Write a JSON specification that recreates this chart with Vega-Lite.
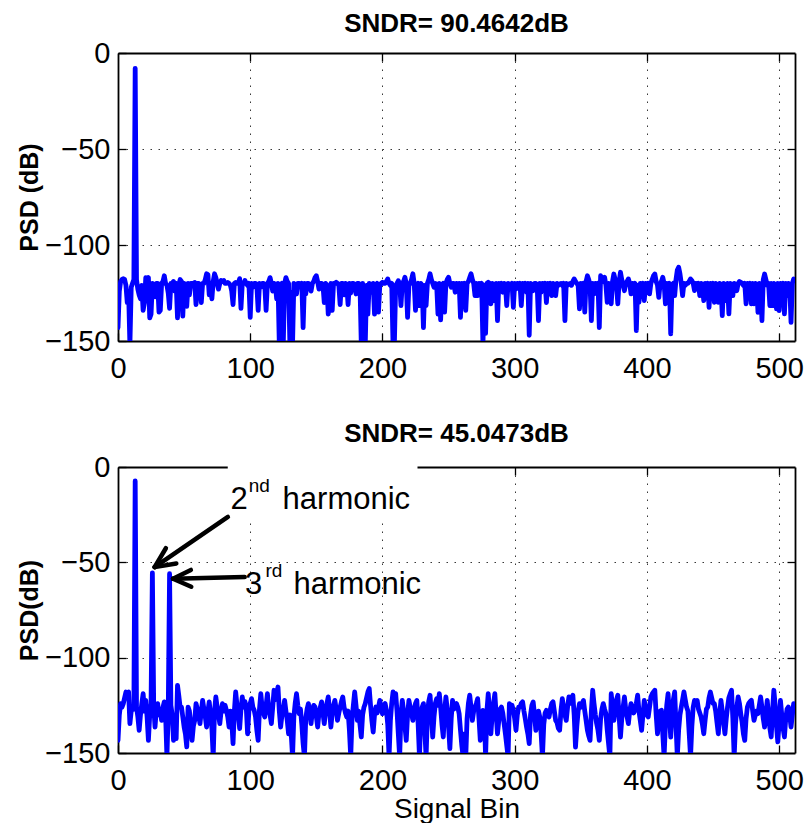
{
  "$schema": "https://vega.github.io/schema/vega-lite/v6.json",
  "background": "white",
  "padding": {"left": 17, "top": 11, "right": 5, "bottom": 0},
  "config": {
    "font": "Liberation Sans",
    "view": {"stroke": null},
    "concat": {"spacing": 38},
    "axis": {
      "domainColor": "black",
      "domainWidth": 1.8,
      "tickColor": "black",
      "tickWidth": 1.3,
      "tickSize": -8,
      "gridColor": "#222",
      "gridWidth": 1,
      "gridDash": [1.5, 6.5],
      "gridOpacity": 0.9,
      "labelFont": "Liberation Sans",
      "labelFontSize": 29,
      "labelColor": "black",
      "labelFlush": false,
      "labelOverlap": false,
      "titleFont": "Liberation Sans",
      "titleColor": "black"
    }
  },
  "data": {
    "values": [
      {"x":0,"a":-143,"b":-143.4},{"x":1,"a":-124,"b":-130},{"x":2,"a":-119,"b":-124.1},{"x":3,"a":-118,"b":-126},{"x":4,"a":-117.5,"b":-124.1},
      {"x":5,"a":-118,"b":-121},{"x":6,"a":-121,"b":-118},{"x":7,"a":-130,"b":-118.5},{"x":8,"a":-124,"b":-118},{"x":9,"a":-152,"b":-134.6},
      {"x":10,"a":-122,"b":-128},{"x":11,"a":-120,"b":-125.9},{"x":12,"a":-118,"b":-127},{"x":13,"a":-8,"b":-7.3},{"x":14,"a":-118,"b":-126},
      {"x":15,"a":-123,"b":-131},{"x":16,"a":-126,"b":-138.1},{"x":17,"a":-128,"b":-130},{"x":18,"a":-121,"b":-124},{"x":19,"a":-134,"b":-118.9},
      {"x":20,"a":-130,"b":-128},{"x":21,"a":-117,"b":-122.4},{"x":22,"a":-118,"b":-131},{"x":23,"a":-117,"b":-143.4},{"x":24,"a":-138,"b":-130},
      {"x":25,"a":-136,"b":-124},{"x":26,"a":-120,"b":-55.5},{"x":27,"a":-121,"b":-125},{"x":28,"a":-127,"b":-136.4},{"x":29,"a":-120,"b":-127},
      {"x":30,"a":-120,"b":-124.1},{"x":31,"a":-135,"b":-130},{"x":32,"a":-134,"b":-128},{"x":33,"a":-120,"b":-132.9},{"x":34,"a":-119,"b":-126},
      {"x":35,"a":-116,"b":-123.2},{"x":36,"a":-120,"b":-130},{"x":37,"a":-121,"b":-152},{"x":38,"a":-125,"b":-128},{"x":39,"a":-133,"b":-56},
      {"x":40,"a":-120,"b":-125},{"x":41,"a":-120,"b":-130},{"x":42,"a":-119,"b":-143.4},{"x":43,"a":-124,"b":-132},{"x":44,"a":-120,"b":-142.5},
      {"x":45,"a":-138,"b":-114.5},{"x":46,"a":-121,"b":-120},{"x":47,"a":-118,"b":-126},{"x":48,"a":-119,"b":-125.9},{"x":49,"a":-137,"b":-131},
      {"x":50,"a":-120,"b":-136.4},{"x":51,"a":-121,"b":-140},{"x":52,"a":-132,"b":-146.8},{"x":53,"a":-120,"b":-125.9},{"x":54,"a":-126,"b":-128},
      {"x":55,"a":-120,"b":-135},{"x":56,"a":-120,"b":-143.4},{"x":57,"a":-120,"b":-136},{"x":58,"a":-119.5,"b":-132.9},{"x":59,"a":-131,"b":-124.1},
      {"x":60,"a":-120,"b":-127},{"x":61,"a":-120,"b":-130},{"x":62,"a":-121,"b":-134.6},{"x":63,"a":-130,"b":-128},{"x":64,"a":-120,"b":-122.4},
      {"x":65,"a":-120,"b":-127},{"x":66,"a":-118,"b":-131},{"x":67,"a":-115,"b":-136.4},{"x":68,"a":-115.5,"b":-128},{"x":69,"a":-126,"b":-123.2},
      {"x":70,"a":-120,"b":-130},{"x":71,"a":-128,"b":-137},{"x":72,"a":-119,"b":-152},{"x":73,"a":-115,"b":-128},{"x":74,"a":-117,"b":-120.6},
      {"x":75,"a":-120,"b":-126},{"x":76,"a":-123,"b":-130},{"x":77,"a":-120,"b":-134.6},{"x":78,"a":-118.5,"b":-128},{"x":79,"a":-119,"b":-124.1},
      {"x":80,"a":-118.5,"b":-128},{"x":81,"a":-120,"b":-125},{"x":82,"a":-120,"b":-127.6},{"x":83,"a":-119.5,"b":-131},{"x":84,"a":-120,"b":-136.4},
      {"x":85,"a":-121,"b":-128},{"x":86,"a":-124,"b":-133},{"x":87,"a":-131,"b":-145.1},{"x":88,"a":-120,"b":-128},{"x":89,"a":-119.5,"b":-118},
      {"x":90,"a":-120,"b":-125},{"x":91,"a":-120,"b":-130},{"x":92,"a":-117.5,"b":-137.2},{"x":93,"a":-133,"b":-127},{"x":94,"a":-120,"b":-120.6},
      {"x":95,"a":-120,"b":-126},{"x":96,"a":-118.5,"b":-123},{"x":97,"a":-120,"b":-125.9},{"x":98,"a":-121,"b":-139.9},{"x":99,"a":-120,"b":-128},
      {"x":100,"a":-137.7,"b":-124},{"x":101,"a":-120,"b":-121.5},{"x":102,"a":-122,"b":-126},{"x":103,"a":-120,"b":-127.6},{"x":104,"a":-120,"b":-131},
      {"x":105,"a":-121,"b":-138},{"x":106,"a":-134,"b":-143.4},{"x":107,"a":-120,"b":-127},{"x":108,"a":-122,"b":-118.9},{"x":109,"a":-120,"b":-126},
      {"x":110,"a":-120,"b":-129},{"x":111,"a":-121,"b":-131.1},{"x":112,"a":-134,"b":-125},{"x":113,"a":-120,"b":-118.9},{"x":114,"a":-119,"b":-127},
      {"x":115,"a":-117,"b":-130},{"x":116,"a":-120,"b":-134.6},{"x":117,"a":-124,"b":-126},{"x":118,"a":-120,"b":-117.1},{"x":119,"a":-121,"b":-122},
      {"x":120,"a":-128,"b":-119},{"x":121,"a":-120,"b":-115.4},{"x":122,"a":-152,"b":-128},{"x":123,"a":-121,"b":-136.4},{"x":124,"a":-120,"b":-130},
      {"x":125,"a":-152,"b":-127},{"x":126,"a":-120,"b":-122.4},{"x":127,"a":-117,"b":-128},{"x":128,"a":-119,"b":-133},{"x":129,"a":-120,"b":-139.9},
      {"x":130,"a":-152,"b":-130},{"x":131,"a":-125,"b":-140},{"x":132,"a":-152,"b":-152},{"x":133,"a":-120,"b":-131},{"x":134,"a":-121,"b":-124},
      {"x":135,"a":-125.5,"b":-118.9},{"x":136,"a":-120,"b":-125},{"x":137,"a":-120,"b":-129.4},{"x":138,"a":-121,"b":-127},{"x":139,"a":-120,"b":-135},
      {"x":140,"a":-143,"b":-145},{"x":141,"a":-120,"b":-152},{"x":142,"a":-125.5,"b":-132},{"x":143,"a":-120,"b":-127},{"x":144,"a":-120,"b":-124.1},
      {"x":145,"a":-121,"b":-129},{"x":146,"a":-124,"b":-134.6},{"x":147,"a":-120,"b":-128},{"x":148,"a":-119,"b":-125},{"x":149,"a":-117,"b":-125.9},
      {"x":150,"a":-116,"b":-131},{"x":151,"a":-119,"b":-136.4},{"x":152,"a":-123,"b":-129},{"x":153,"a":-120,"b":-126},{"x":154,"a":-120,"b":-123.2},
      {"x":155,"a":-121,"b":-129},{"x":156,"a":-130,"b":-134.6},{"x":157,"a":-120,"b":-128},{"x":158,"a":-121,"b":-124},{"x":159,"a":-136,"b":-120.6},
      {"x":160,"a":-128,"b":-128},{"x":161,"a":-120,"b":-136.4},{"x":162,"a":-134,"b":-129},{"x":163,"a":-120,"b":-125},{"x":164,"a":-120,"b":-122.4},
      {"x":165,"a":-119.4,"b":-127},{"x":166,"a":-120,"b":-132.9},{"x":167,"a":-121,"b":-129},{"x":168,"a":-131,"b":-126},{"x":169,"a":-120,"b":-123},
      {"x":170,"a":-120,"b":-120.6},{"x":171,"a":-126,"b":-126},{"x":172,"a":-120,"b":-129},{"x":173,"a":-121,"b":-131.1},{"x":174,"a":-131,"b":-128},
      {"x":175,"a":-120,"b":-138},{"x":176,"a":-125,"b":-152},{"x":177,"a":-120,"b":-132},{"x":178,"a":-120,"b":-125},{"x":179,"a":-121,"b":-118},
      {"x":180,"a":-125.5,"b":-125},{"x":181,"a":-120,"b":-132.9},{"x":182,"a":-120,"b":-128},{"x":183,"a":-121,"b":-135},{"x":184,"a":-152,"b":-141.6},
      {"x":185,"a":-120,"b":-130},{"x":186,"a":-141,"b":-126},{"x":187,"a":-152,"b":-124.1},{"x":188,"a":-121,"b":-121},{"x":189,"a":-136,"b":-118},
      {"x":190,"a":-120,"b":-116.2},{"x":191,"a":-121,"b":-125},{"x":192,"a":-124.6,"b":-133},{"x":193,"a":-120,"b":-139},{"x":194,"a":-136,"b":-130},
      {"x":195,"a":-121,"b":-125.9},{"x":196,"a":-120,"b":-129},{"x":197,"a":-135,"b":-126},{"x":198,"a":-121,"b":-122.4},{"x":199,"a":-120,"b":-126},
      {"x":200,"a":-119.4,"b":-129.4},{"x":201,"a":-120,"b":-126},{"x":202,"a":-120,"b":-124},{"x":203,"a":-119,"b":-127.6},{"x":204,"a":-117.7,"b":-135},
      {"x":205,"a":-120,"b":-152},{"x":206,"a":-121,"b":-133},{"x":207,"a":-120,"b":-124},{"x":208,"a":-152,"b":-118},{"x":209,"a":-152,"b":-122},
      {"x":210,"a":-121,"b":-118.9},{"x":211,"a":-120,"b":-128},{"x":212,"a":-118.6,"b":-140},{"x":213,"a":-120,"b":-152},{"x":214,"a":-131.6,"b":-130},
      {"x":215,"a":-120,"b":-122.4},{"x":216,"a":-119,"b":-128},{"x":217,"a":-116.8,"b":-136},{"x":218,"a":-120,"b":-143.4},{"x":219,"a":-137.7,"b":-130},
      {"x":220,"a":-121,"b":-122.4},{"x":221,"a":-120,"b":-126},{"x":222,"a":-118,"b":-129},{"x":223,"a":-115,"b":-132.9},{"x":224,"a":-120,"b":-127},
      {"x":225,"a":-134,"b":-124},{"x":226,"a":-121,"b":-122.4},{"x":227,"a":-120,"b":-135},{"x":228,"a":-131.6,"b":-152},{"x":229,"a":-120,"b":-131},
      {"x":230,"a":-121,"b":-126},{"x":231,"a":-143,"b":-124.1},{"x":232,"a":-121,"b":-138},{"x":233,"a":-131.6,"b":-152},{"x":234,"a":-120,"b":-130},
      {"x":235,"a":-118,"b":-123},{"x":236,"a":-115,"b":-119.7},{"x":237,"a":-118,"b":-130},{"x":238,"a":-120,"b":-141.6},{"x":239,"a":-122,"b":-131},
      {"x":240,"a":-120,"b":-124},{"x":241,"a":-121,"b":-121.5},{"x":242,"a":-136,"b":-125},{"x":243,"a":-120,"b":-118.9},{"x":244,"a":-139,"b":-126},
      {"x":245,"a":-121,"b":-135},{"x":246,"a":-120,"b":-141.6},{"x":247,"a":-135,"b":-128},{"x":248,"a":-120,"b":-120.6},{"x":249,"a":-118,"b":-127},
      {"x":250,"a":-116.8,"b":-136},{"x":251,"a":-120,"b":-147.7},{"x":252,"a":-122,"b":-132},{"x":253,"a":-120,"b":-122.4},{"x":254,"a":-120,"b":-127},
      {"x":255,"a":-124.6,"b":-125},{"x":256,"a":-120,"b":-124.1},{"x":257,"a":-123.8,"b":-126},{"x":258,"a":-120,"b":-129.4},{"x":259,"a":-137.7,"b":-138},
      {"x":260,"a":-120,"b":-146},{"x":261,"a":-121,"b":-152},{"x":262,"a":-120,"b":-140},{"x":263,"a":-134,"b":-152},{"x":264,"a":-120,"b":-132},
      {"x":265,"a":-119,"b":-124},{"x":266,"a":-117,"b":-119.7},{"x":267,"a":-115,"b":-126},{"x":268,"a":-118,"b":-132.9},{"x":269,"a":-120,"b":-128},
      {"x":270,"a":-126.4,"b":-126},{"x":271,"a":-120,"b":-124},{"x":272,"a":-126.4,"b":-121.5},{"x":273,"a":-120,"b":-132},{"x":274,"a":-121,"b":-143.4},
      {"x":275,"a":-120,"b":-134},{"x":276,"a":-152,"b":-127.6},{"x":277,"a":-121,"b":-129},{"x":278,"a":-146,"b":-152},{"x":279,"a":-120,"b":-128},
      {"x":280,"a":-119.4,"b":-118.9},{"x":281,"a":-120,"b":-128},{"x":282,"a":-130.7,"b":-139.9},{"x":283,"a":-120,"b":-130},{"x":284,"a":-121,"b":-124},
      {"x":285,"a":-129,"b":-118.9},{"x":286,"a":-120,"b":-130},{"x":287,"a":-139.4,"b":-139.9},{"x":288,"a":-120,"b":-133},{"x":289,"a":-121,"b":-127},
      {"x":290,"a":-120,"b":-125.9},{"x":291,"a":-124.6,"b":-129},{"x":292,"a":-120,"b":-134.6},{"x":293,"a":-121,"b":-140},{"x":294,"a":-131.6,"b":-146},
      {"x":295,"a":-120,"b":-152},{"x":296,"a":-120.3,"b":-124.1},{"x":297,"a":-121,"b":-126},{"x":298,"a":-120,"b":-125},{"x":299,"a":-132.5,"b":-127.6},
      {"x":300,"a":-120,"b":-132},{"x":301,"a":-122.9,"b":-138.1},{"x":302,"a":-120,"b":-130},{"x":303,"a":-121,"b":-126},{"x":304,"a":-120,"b":-125.9},
      {"x":305,"a":-131.6,"b":-124},{"x":306,"a":-120,"b":-123.2},{"x":307,"a":-121,"b":-128},{"x":308,"a":-120,"b":-132},{"x":309,"a":-124.6,"b":-136.4},
      {"x":310,"a":-120,"b":-140},{"x":311,"a":-147,"b":-145.1},{"x":312,"a":-120,"b":-130},{"x":313,"a":-121,"b":-125},{"x":314,"a":-123.8,"b":-123.2},
      {"x":315,"a":-120,"b":-130},{"x":316,"a":-120,"b":-138.1},{"x":317,"a":-121,"b":-133},{"x":318,"a":-139.4,"b":-128},{"x":319,"a":-120,"b":-131.1},
      {"x":320,"a":-124.6,"b":-140},{"x":321,"a":-120,"b":-152},{"x":322,"a":-121,"b":-135},{"x":323,"a":-120,"b":-129},{"x":324,"a":-130,"b":-127.6},
      {"x":325,"a":-120,"b":-129},{"x":326,"a":-121,"b":-131.1},{"x":327,"a":-120,"b":-127},{"x":328,"a":-126.4,"b":-124},{"x":329,"a":-120,"b":-123.2},
      {"x":330,"a":-121,"b":-128},{"x":331,"a":-126.4,"b":-132.9},{"x":332,"a":-120,"b":-134},{"x":333,"a":-121,"b":-137},{"x":334,"a":-120.3,"b":-138.1},
      {"x":335,"a":-120,"b":-128},{"x":336,"a":-121,"b":-121.5},{"x":337,"a":-120,"b":-126},{"x":338,"a":-139.4,"b":-130},{"x":339,"a":-120,"b":-132.9},
      {"x":340,"a":-121,"b":-126},{"x":341,"a":-120.3,"b":-120.6},{"x":342,"a":-120,"b":-124},{"x":343,"a":-121,"b":-122},{"x":344,"a":-119,"b":-119.7},
      {"x":345,"a":-117.7,"b":-130},{"x":346,"a":-119,"b":-146.9},{"x":347,"a":-120,"b":-136},{"x":348,"a":-121,"b":-128},{"x":349,"a":-133.3,"b":-124.1},
      {"x":350,"a":-120,"b":-126},{"x":351,"a":-121,"b":-124},{"x":352,"a":-120,"b":-122.4},{"x":353,"a":-135,"b":-128},{"x":354,"a":-119,"b":-132.9},
      {"x":355,"a":-116,"b":-138},{"x":356,"a":-118,"b":-141},{"x":357,"a":-121,"b":-143.4},{"x":358,"a":-139.4,"b":-128},{"x":359,"a":-120,"b":-117.1},
      {"x":360,"a":-125.5,"b":-124},{"x":361,"a":-120,"b":-130},{"x":362,"a":-121,"b":-134.6},{"x":363,"a":-120,"b":-138},{"x":364,"a":-143,"b":-143.4},
      {"x":365,"a":-116,"b":-132},{"x":366,"a":-118,"b":-127},{"x":367,"a":-119,"b":-124.1},{"x":368,"a":-116.8,"b":-127},{"x":369,"a":-121,"b":-129.4},
      {"x":370,"a":-129.9,"b":-138},{"x":371,"a":-120,"b":-145},{"x":372,"a":-121,"b":-152},{"x":373,"a":-130.7,"b":-118.9},{"x":374,"a":-119,"b":-126},
      {"x":375,"a":-115.1,"b":-132.9},{"x":376,"a":-118,"b":-127},{"x":377,"a":-121,"b":-122},{"x":378,"a":-130.7,"b":-119.7},{"x":379,"a":-119,"b":-131},
      {"x":380,"a":-114.2,"b":-141.6},{"x":381,"a":-118,"b":-132},{"x":382,"a":-121,"b":-126},{"x":383,"a":-123.8,"b":-120.6},{"x":384,"a":-120,"b":-127},
      {"x":385,"a":-119,"b":-131},{"x":386,"a":-117.7,"b":-134.6},{"x":387,"a":-120,"b":-128},{"x":388,"a":-125.5,"b":-124.1},{"x":389,"a":-120,"b":-126},
      {"x":390,"a":-121,"b":-129},{"x":391,"a":-120,"b":-127.6},{"x":392,"a":-144.6,"b":-124},{"x":393,"a":-121,"b":-119.7},{"x":394,"a":-129.9,"b":-128},
      {"x":395,"a":-120,"b":-133},{"x":396,"a":-121,"b":-138.1},{"x":397,"a":-120,"b":-130},{"x":398,"a":-129,"b":-122.4},{"x":399,"a":-120,"b":-126},
      {"x":400,"a":-121,"b":-130},{"x":401,"a":-120,"b":-131.1},{"x":402,"a":-125.5,"b":-126},{"x":403,"a":-120,"b":-120.6},{"x":404,"a":-118,"b":-119},
      {"x":405,"a":-116,"b":-118},{"x":406,"a":-115.1,"b":-117.1},{"x":407,"a":-119,"b":-130},{"x":408,"a":-121,"b":-139.9},{"x":409,"a":-127.3,"b":-133},
      {"x":410,"a":-120,"b":-128},{"x":411,"a":-119,"b":-127.6},{"x":412,"a":-116.8,"b":-140},{"x":413,"a":-120,"b":-152},{"x":414,"a":-130.7,"b":-135},
      {"x":415,"a":-120,"b":-125},{"x":416,"a":-121,"b":-118.9},{"x":417,"a":-120,"b":-130},{"x":418,"a":-146.3,"b":-141.6},{"x":419,"a":-121,"b":-130},
      {"x":420,"a":-120,"b":-122},{"x":421,"a":-126.4,"b":-118},{"x":422,"a":-118,"b":-135},{"x":423,"a":-113,"b":-152},{"x":424,"a":-111.6,"b":-138},
      {"x":425,"a":-115,"b":-130},{"x":426,"a":-120,"b":-125.9},{"x":427,"a":-126.4,"b":-122},{"x":428,"a":-120,"b":-118},{"x":429,"a":-121,"b":-122},
      {"x":430,"a":-120,"b":-125.9},{"x":431,"a":-120,"b":-128},{"x":432,"a":-119,"b":-140},{"x":433,"a":-117.7,"b":-152},{"x":434,"a":-118.5,"b":-136},
      {"x":435,"a":-120,"b":-126},{"x":436,"a":-123.8,"b":-122.4},{"x":437,"a":-120,"b":-124},{"x":438,"a":-121,"b":-122.4},{"x":439,"a":-120,"b":-127},
      {"x":440,"a":-126.4,"b":-129},{"x":441,"a":-120,"b":-131.1},{"x":442,"a":-121,"b":-135},{"x":443,"a":-129,"b":-139.9},{"x":444,"a":-120,"b":-133},
      {"x":445,"a":-121,"b":-127},{"x":446,"a":-120,"b":-125.9},{"x":447,"a":-132.5,"b":-121},{"x":448,"a":-120,"b":-118},{"x":449,"a":-121,"b":-121},
      {"x":450,"a":-120,"b":-124},{"x":451,"a":-129.9,"b":-124.1},{"x":452,"a":-120,"b":-128},{"x":453,"a":-121,"b":-134},{"x":454,"a":-129.9,"b":-139.9},
      {"x":455,"a":-120,"b":-130},{"x":456,"a":-121,"b":-122.4},{"x":457,"a":-136.8,"b":-128},{"x":458,"a":-120,"b":-134},{"x":459,"a":-121,"b":-139.9},
      {"x":460,"a":-129,"b":-132},{"x":461,"a":-120,"b":-125.9},{"x":462,"a":-135.9,"b":-121},{"x":463,"a":-120,"b":-119},{"x":464,"a":-121,"b":-117.1},
      {"x":465,"a":-126.4,"b":-132},{"x":466,"a":-120,"b":-152},{"x":467,"a":-121,"b":-135},{"x":468,"a":-123.8,"b":-126},{"x":469,"a":-120,"b":-120.6},
      {"x":470,"a":-119,"b":-124},{"x":471,"a":-119.4,"b":-129.4},{"x":472,"a":-120,"b":-134},{"x":473,"a":-121,"b":-140},{"x":474,"a":-120,"b":-143.4},
      {"x":475,"a":-130.7,"b":-132},{"x":476,"a":-120,"b":-125.9},{"x":477,"a":-121,"b":-124},{"x":478,"a":-120,"b":-123},{"x":479,"a":-130.7,"b":-122.4},
      {"x":480,"a":-120,"b":-128},{"x":481,"a":-130.7,"b":-132.9},{"x":482,"a":-120,"b":-130},{"x":483,"a":-121,"b":-128},{"x":484,"a":-135.1,"b":-129.4},
      {"x":485,"a":-120,"b":-125},{"x":486,"a":-121,"b":-120.6},{"x":487,"a":-139.4,"b":-126},{"x":488,"a":-118,"b":-132},{"x":489,"a":-115.1,"b":-136.4},
      {"x":490,"a":-118,"b":-130},{"x":491,"a":-121,"b":-122.4},{"x":492,"a":-120,"b":-130},{"x":493,"a":-131.6,"b":-137},{"x":494,"a":-120,"b":-141.6},
      {"x":495,"a":-131.6,"b":-128},{"x":496,"a":-120,"b":-117.1},{"x":497,"a":-121,"b":-125},{"x":498,"a":-133.3,"b":-136},{"x":499,"a":-120,"b":-144.2},
      {"x":500,"a":-134.2,"b":-134},{"x":501,"a":-120,"b":-122.4},{"x":502,"a":-121,"b":-130},{"x":503,"a":-120,"b":-137},{"x":504,"a":-135.9,"b":-141.6},
      {"x":505,"a":-120,"b":-132},{"x":506,"a":-126.4,"b":-127},{"x":507,"a":-120,"b":-125.9},{"x":508,"a":-121,"b":-130},{"x":509,"a":-140.3,"b":-136.4},
      {"x":510,"a":-120,"b":-130},{"x":511,"a":-117.7,"b":-124.1}
    ]
  },
  "vconcat": [
    {
      "title": {"text": "SNDR= 90.4642dB", "font": "Liberation Sans", "fontSize": 26, "fontWeight": "bold", "color": "black", "anchor": "middle", "frame": "group", "offset": 2},
      "width": 677,
      "height": 288,
      "layer": [
        {
          "mark": {"type": "line", "stroke": "#0000ff", "strokeWidth": 4.8, "strokeJoin": "round", "strokeCap": "round", "clip": true},
          "encoding": {
            "x": {"field": "x", "type": "quantitative", "scale": {"domain": [0, 512], "nice": false},
                  "axis": {"values": [0, 100, 200, 300, 400, 500], "title": null, "grid": true, "labelPadding": 21, "minExtent": 40, "maxExtent": 40}},
            "y": {"field": "a", "type": "quantitative", "scale": {"domain": [-150, 0], "nice": false},
                  "axis": {"values": [-150, -100, -50, 0], "title": "PSD (dB)", "grid": true, "labelPadding": 16, "titleFontSize": 25, "titleFontWeight": "bold", "titlePadding": 4, "minExtent": 72, "maxExtent": 72}}
          }
        },
        {
          "mark": {"type": "line", "strokeOpacity": 0},
          "encoding": {
            "x": {"field": "x", "type": "quantitative", "axis": {"orient": "top", "values": [100, 200, 300, 400, 500], "labels": false, "grid": false, "title": null, "minExtent": 0, "maxExtent": 0}},
            "y": {"field": "a", "type": "quantitative", "axis": {"orient": "right", "values": [-100, -50], "labels": false, "grid": false, "title": null, "minExtent": 0, "maxExtent": 0}}
          }
        }
      ],
      "resolve": {"axis": {"x": "independent", "y": "independent"}}
    },
    {
      "title": {"text": "SNDR= 45.0473dB", "font": "Liberation Sans", "fontSize": 26, "fontWeight": "bold", "color": "black", "anchor": "middle", "frame": "group", "offset": 6},
      "width": 677,
      "height": 286,
      "layer": [
        {
          "mark": {"type": "line", "stroke": "#0000ff", "strokeWidth": 4.8, "strokeJoin": "round", "strokeCap": "round", "clip": true},
          "encoding": {
            "x": {"field": "x", "type": "quantitative", "scale": {"domain": [0, 512], "nice": false},
                  "axis": {"values": [0, 100, 200, 300, 400, 500], "title": "Signal Bin", "grid": true, "labelPadding": 21, "minExtent": 40, "maxExtent": 40, "titleFontSize": 28, "titleFontWeight": "normal", "titlePadding": 2.6}},
            "y": {"field": "b", "type": "quantitative", "scale": {"domain": [-150, 0], "nice": false},
                  "axis": {"values": [-150, -100, -50, 0], "title": "PSD(dB)", "grid": true, "labelPadding": 16, "titleFontSize": 25, "titleFontWeight": "bold", "titlePadding": 4, "minExtent": 72, "maxExtent": 72}}
          }
        },
        {
          "data": {"values": [{"x1": 83, "x2": 226.5, "y1": 0.8, "y2": -27.5}]},
          "mark": {"type": "rect", "fill": "white", "stroke": null},
          "encoding": {
            "x": {"field": "x1", "type": "quantitative", "axis": {"orient": "top", "values": [100, 200, 300, 400, 500], "labels": false, "grid": false, "title": null, "minExtent": 0, "maxExtent": 0}},
            "x2": {"field": "x2"},
            "y": {"field": "y1", "type": "quantitative", "axis": {"orient": "right", "values": [-100, -50], "labels": false, "grid": false, "title": null, "minExtent": 0, "maxExtent": 0}},
            "y2": {"field": "y2"}
          }
        },
        {
          "data": {"values": [
            {"x1": 83.1, "y1": -26.2, "x2": 27.7, "y2": -52.5},
            {"x1": 27.7, "y1": -52.5, "x2": 44.1, "y2": -50.6},
            {"x1": 27.7, "y1": -52.5, "x2": 36.2, "y2": -42.6},
            {"x1": 95.8, "y1": -57.7, "x2": 41.6, "y2": -58.6},
            {"x1": 41.6, "y1": -58.6, "x2": 55.4, "y2": -62.8},
            {"x1": 41.6, "y1": -58.6, "x2": 55.1, "y2": -54}
          ]},
          "mark": {"type": "rule", "stroke": "black", "strokeWidth": 4.5, "strokeCap": "round"},
          "encoding": {
            "x": {"field": "x1", "type": "quantitative", "axis": null},
            "y": {"field": "y1", "type": "quantitative", "axis": null},
            "x2": {"field": "x2"},
            "y2": {"field": "y2"}
          }
        },
        {
          "data": {"values": [
            {"t": "2", "x": 85, "y": -21.9},
            {"t": "harmonic", "x": 124.5, "y": -21.9},
            {"t": "3", "x": 96.1, "y": -66.5},
            {"t": "harmonic", "x": 132.8, "y": -66.5}
          ]},
          "mark": {"type": "text", "font": "Liberation Sans", "fontSize": 31, "align": "left", "baseline": "alphabetic", "color": "black"},
          "encoding": {
            "x": {"field": "x", "type": "quantitative", "axis": null},
            "y": {"field": "y", "type": "quantitative", "axis": null},
            "text": {"field": "t"}
          }
        },
        {
          "data": {"values": [
            {"t": "nd", "x": 98.8, "y": -13.1},
            {"t": "rd", "x": 111.5, "y": -57.7}
          ]},
          "mark": {"type": "text", "font": "Liberation Sans", "fontSize": 19, "align": "left", "baseline": "alphabetic", "color": "black"},
          "encoding": {
            "x": {"field": "x", "type": "quantitative", "axis": null},
            "y": {"field": "y", "type": "quantitative", "axis": null},
            "text": {"field": "t"}
          }
        }
      ],
      "resolve": {"axis": {"x": "independent", "y": "independent"}}
    }
  ]
}
